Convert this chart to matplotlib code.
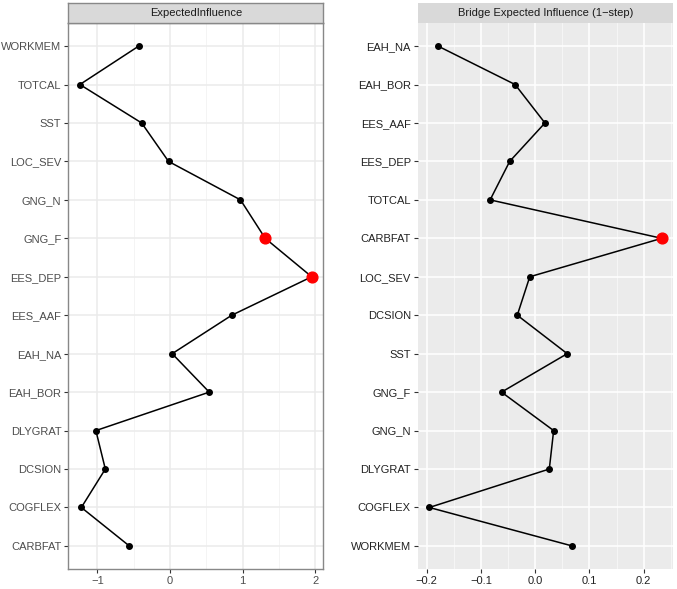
import matplotlib
matplotlib.use("Agg")
import matplotlib.pyplot as plt

plt.rcParams['font.family'] = ['Liberation Sans', 'DejaVu Sans']

# left panel: expected influence
ei_nodes = ["WORKMEM", "TOTCAL", "SST", "LOC_SEV", "GNG_N", "GNG_F", "EES_DEP",
            "EES_AAF", "EAH_NA", "EAH_BOR", "DLYGRAT", "DCSION", "COGFLEX", "CARBFAT"]
ei_vals = [-0.43, -1.24, -0.39, -0.02, 0.97, 1.31, 1.95,
           0.85, 0.03, 0.54, -1.02, -0.89, -1.22, -0.56]
ei_top = ["GNG_F", "EES_DEP"]

# right panel: bridge expected influence
bei_nodes = ["EAH_NA", "EAH_BOR", "EES_AAF", "EES_DEP", "TOTCAL", "CARBFAT", "LOC_SEV",
             "DCSION", "SST", "GNG_F", "GNG_N", "DLYGRAT", "COGFLEX", "WORKMEM"]
bei_vals = [-0.179, -0.037, 0.018, -0.047, -0.083, 0.233, -0.010,
            -0.033, 0.059, -0.062, 0.034, 0.026, -0.195, 0.068]
bei_top = ["CARBFAT"]

W, H = 677, 589
fig = plt.figure(figsize=(W / 100, H / 100), dpi=100)


def panel(x0, x1, nodes, vals, top, title, xticks, xlabels, minor, bw):
    ax = fig.add_axes([x0 / W, (H - 569) / H, (x1 - x0) / W, (569 - 23) / H])
    n = len(nodes)
    y = list(range(n))
    span = max(vals) - min(vals)
    ax.set_xlim(min(vals) - 0.05 * span, max(vals) + 0.05 * span)
    ax.set_ylim(n - 1 + 0.6, -0.6)
    if bw:
        ax.set_facecolor("white")
        major_c, minor_c = "#EBEBEB", "#F2F2F2"
        txt_c = "#4D4D4D"
    else:
        ax.set_facecolor("#EBEBEB")
        major_c, minor_c = "white", "#F7F7F7"
        txt_c = "#222222"
    for m in minor:
        ax.axvline(m, color=minor_c, lw=0.6, zorder=0)
    for t in xticks:
        ax.axvline(t, color=major_c, lw=1.1, zorder=0)
    for yy in y:
        ax.axhline(yy, color=major_c, lw=1.1, zorder=0)
    ax.plot(vals, y, color="black", lw=1.1, zorder=2)
    small = [(v, i) for i, (v, nd) in enumerate(zip(vals, nodes)) if nd not in top]
    big = [(v, i) for i, (v, nd) in enumerate(zip(vals, nodes)) if nd in top]
    ax.scatter([p[0] for p in small], [p[1] for p in small], s=16, color="black", zorder=3)
    ax.scatter([p[0] for p in big], [p[1] for p in big], s=60, color="red", zorder=4)
    ax.set_yticks(y)
    ax.set_yticklabels(nodes)
    ax.set_xticks(xticks)
    ax.set_xticklabels(xlabels)
    ax.tick_params(axis="both", colors="#333333", labelcolor=txt_c, labelsize=8.0,
                   length=3, width=0.8, pad=2)
    for s in ax.spines.values():
        s.set_visible(bw)
        s.set_color("#888888")
        s.set_linewidth(1.0)
    ax.grid(False)
    # strip
    sax = fig.add_axes([x0 / W, (H - 23) / H, (x1 - x0) / W, 20 / H])
    sax.set_xticks([])
    sax.set_yticks([])
    sax.set_facecolor("#D9D9D9")
    for s in sax.spines.values():
        s.set_visible(bw)
        s.set_color("#888888")
        s.set_linewidth(1.0)
    sax.text(0.5, 0.5, title, ha="center", va="center", fontsize=8.0,
             color="#1A1A1A", transform=sax.transAxes)
    return ax


panel(68.3, 323.3, ei_nodes, ei_vals, ei_top, "ExpectedInfluence",
      [-1, 0, 1, 2], ["\u22121", "0", "1", "2"], [-0.5, 0.5, 1.5], True)
panel(417.7, 673.3, bei_nodes, bei_vals, bei_top, "Bridge Expected Influence (1\u2212step)",
      [-0.2, -0.1, 0.0, 0.1, 0.2], ["\u22120.2", "\u22120.1", "0.0", "0.1", "0.2"],
      [-0.15, -0.05, 0.05, 0.15, 0.25], False)

fig.savefig("out.png", dpi=100)
